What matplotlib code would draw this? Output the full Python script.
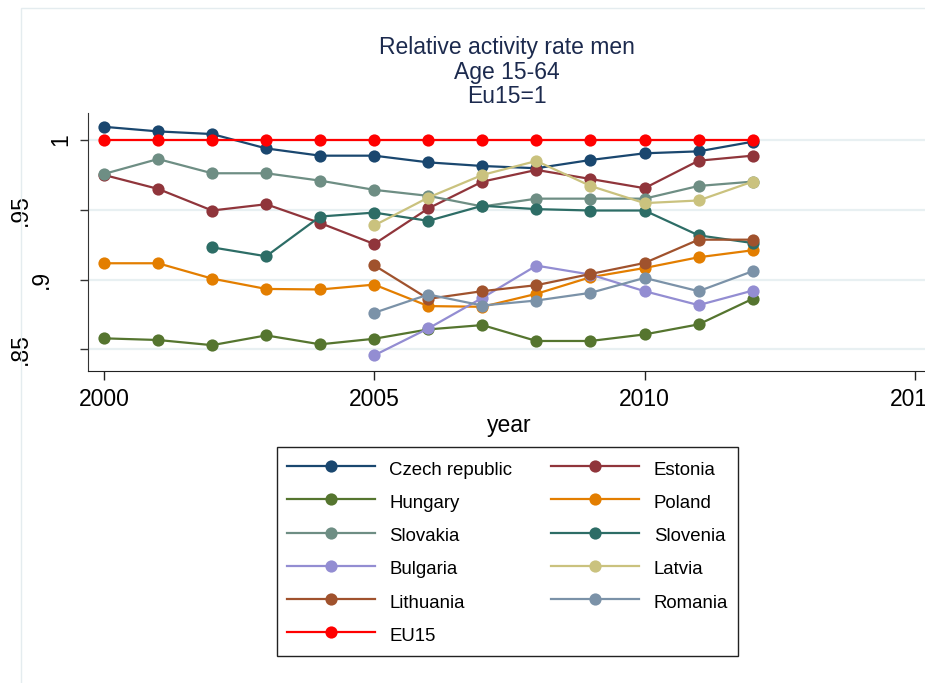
import matplotlib.pyplot as plt
from matplotlib.lines import Line2D
from matplotlib.patches import Rectangle
from matplotlib.transforms import blended_transform_factory

plt.rcParams['font.family'] = ['Liberation Sans', 'DejaVu Sans']

years = list(range(2000, 2013))
nan = float('nan')

czech = [1.0095, 1.0062, 1.0043, 0.9940, 0.9888, 0.9888, 0.9840, 0.9814, 0.9798, 0.9857, 0.9905, 0.9919, 0.9988]
estonia = [0.9750, 0.9650, 0.9495, 0.9540, 0.9405, 0.9255, 0.9510, 0.9702, 0.9786, 0.9721, 0.9655, 0.9852, 0.9888]
hungary = [0.8579, 0.8567, 0.8530, 0.8600, 0.8536, 0.8576, 0.8643, 0.8674, 0.8560, 0.8560, 0.8607, 0.8679, 0.8862]
poland = [0.9117, 0.9117, 0.9007, 0.8933, 0.8929, 0.8964, 0.8810, 0.8805, 0.8898, 0.9017, 0.9083, 0.9160, 0.9210]
slovakia = [0.9757, 0.9864, 0.9762, 0.9762, 0.9709, 0.9643, 0.9600, 0.9524, 0.9580, 0.9580, 0.9580, 0.9671, 0.9702]
slovenia = [nan, nan, 0.9231, 0.9167, 0.9452, 0.9480, 0.9421, 0.9529, 0.9505, 0.9495, 0.9495, 0.9317, 0.9262]
bulgaria = [nan, nan, nan, nan, nan, 0.8457, 0.8650, 0.8869, 0.9100, 0.9036, 0.8917, 0.8817, 0.8921]
latvia = [nan, nan, nan, nan, nan, 0.9388, 0.9588, 0.9750, 0.9850, 0.9671, 0.9548, 0.9567, 0.9702]
lithuania = [nan, nan, nan, nan, nan, 0.9102, 0.8862, 0.8917, 0.8960, 0.9040, 0.9119, 0.9286, 0.9286]
romania = [nan, nan, nan, nan, nan, 0.8762, 0.8893, 0.8814, 0.8850, 0.8905, 0.9012, 0.8917, 0.9060]
eu15 = [1.0] * 13

names = ['Czech republic', 'Estonia', 'Hungary', 'Poland', 'Slovakia', 'Slovenia',
         'Bulgaria', 'Latvia', 'Lithuania', 'Romania', 'EU15']
series = [czech, estonia, hungary, poland, slovakia, slovenia,
          bulgaria, latvia, lithuania, romania, eu15]
colors = ['#1a476f', '#90353b', '#55752f', '#e37e00', '#6e8e84', '#2d6d66',
          '#938dd2', '#cac27e', '#a0522d', '#7b92a8', '#ff0000']

yticks = [0.85, 0.9, 0.95, 1.0]
yticklabels = ['.85', '.9', '.95', '1']
ylabel_x = [20, 41, 20, 61]   # pixel centres of the rotated labels
xticks = [2000, 2005, 2010, 2015]

W, H = 925, 683
fig = plt.figure(figsize=(W / 100, H / 100), dpi=100)
fig.patch.set_facecolor('white')

# thin outer frame of the graph region
fig.patches.append(Rectangle((20.5 / W, -0.1), 1.2, (H - 8.3) / H + 0.1, fill=False,
                             edgecolor='#e4ecef', lw=1.0, transform=fig.transFigure))

left, right, top, bottom = 88.3, 930.5, 112.7, 370.7
ax = fig.add_axes([left / W, (H - bottom) / H, (right - left) / W, (bottom - top) / H])

for vals, c in zip(series, colors):
    ax.plot(years, vals, color=c, lw=1.6, marker='o', markersize=8.8,
            markeredgewidth=0, solid_capstyle='round')

ax.set_xlim(1999.71, 2015.29)
ax.set_ylim(0.8347, 1.0196)
ax.set_xticks(xticks)
ax.set_xticklabels([str(x) for x in xticks], fontsize=16.5)
ax.set_yticks(yticks)
ax.tick_params(axis='y', labelleft=False, length=6, width=1, color='#333333')
ax.tick_params(axis='x', length=6.5, width=1, pad=6, color='#222222')
ax.grid(axis='y', color='#e8f0f2', lw=1.6)
ax.set_axisbelow(True)

for side in ['top', 'right']:
    ax.spines[side].set_visible(False)
ax.spines['left'].set_color('#333333')
ax.spines['bottom'].set_color('#222222')

tr = blended_transform_factory(fig.transFigure, ax.transData)
for v, lab, px in zip(yticks, yticklabels, ylabel_x):
    ax.text(px / W, v, lab, transform=tr, rotation=90, ha='center', va='center',
            fontsize=16.5)

ax.set_xlabel('year', fontsize=16.5, labelpad=2)

# three-line title
for txt, yc in zip(['Relative activity rate men', 'Age 15-64', 'Eu15=1'], [47.5, 72, 96.5]):
    fig.text(506.5 / W, 1 - yc / H, txt, ha='center', va='center',
             fontsize=16.5, color='#1c2a4e')

# legend, filled row by row
handles = [Line2D([], [], color=c, lw=1.6, marker='o', markersize=8.8, markeredgewidth=0)
           for c in colors]
order = [0, 2, 4, 6, 8, 10, 1, 3, 5, 7, 9]
leg = fig.legend([handles[i] for i in order], [names[i] for i in order], ncol=2,
                 loc='upper left', bbox_to_anchor=(276.7 / W, 1 - 447.3 / H),
                 fontsize=13.4, handlelength=4.73, handleheight=1.5, handletextpad=0.77,
                 columnspacing=2.1, borderpad=0.55, labelspacing=0.56,
                 fancybox=False, framealpha=1, borderaxespad=0)
leg.get_frame().set_edgecolor('#222222')
leg.get_frame().set_linewidth(1.0)

fig.savefig('out.png', dpi=100)
